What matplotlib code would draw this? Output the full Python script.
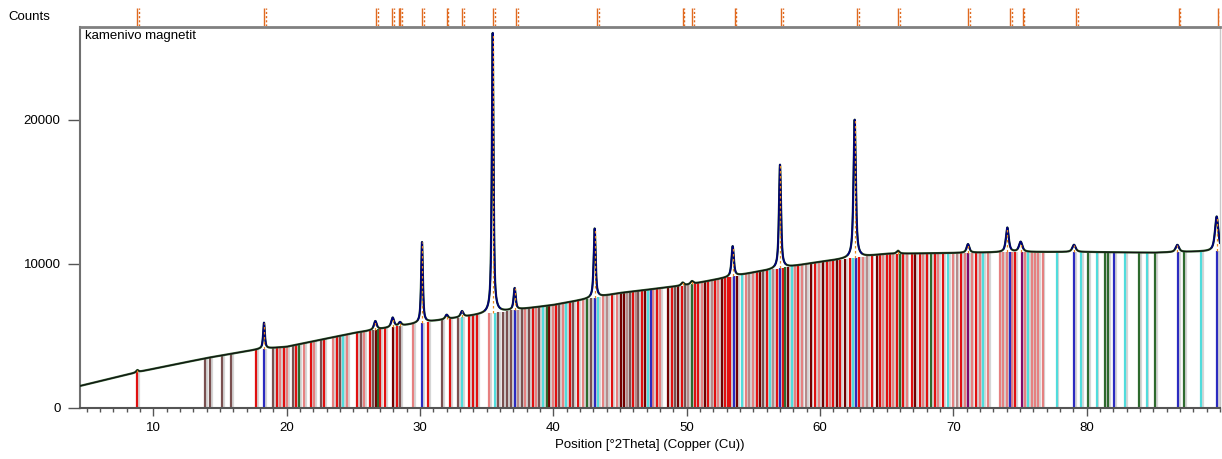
import numpy as np
import matplotlib
matplotlib.use('Agg')
import matplotlib.pyplot as plt
from matplotlib.ticker import MultipleLocator

plt.rcParams['font.family'] = ['Liberation Sans', 'DejaVu Sans']

# background of the scan (counts), read at a few positions
bg_x = [4.5, 9, 14, 18, 20, 25, 30, 35, 40, 45, 50, 55, 60, 65, 70, 75, 80, 85, 90]
bg_y = [1530, 2530, 3470, 4100, 4250, 5200, 5900, 6550, 7150, 7980, 8540, 9400,
        10140, 10700, 10760, 10830, 10830, 10780, 10900]

# observed peaks: position, height above background, width
peak_pos = [8.8, 18.3, 26.65, 27.95, 28.5, 30.15, 32.0, 33.15, 35.45, 37.1, 43.1,
            49.7, 50.4, 53.45, 57.0, 62.6, 65.85, 71.1, 74.05, 75.05, 79.05, 86.8, 89.75]
peak_h = [150, 1800, 600, 650, 250, 5600, 300, 400, 19500, 1500, 4800,
          200, 200, 2100, 7200, 9600, 200, 600, 1700, 700, 500, 500, 2400]
peak_w = [0.2, 0.15, 0.25, 0.25, 0.25, 0.15, 0.25, 0.25, 0.15, 0.18, 0.17,
          0.25, 0.25, 0.2, 0.18, 0.2, 0.25, 0.25, 0.25, 0.3, 0.3, 0.3, 0.3]

# peak markers in the strip above the plot
mark_pos = [8.8, 18.3, 26.7, 27.9, 28.4, 28.5, 30.15, 32.0, 33.15, 35.5, 37.2, 43.3,
            49.7, 50.4, 53.6, 57.1, 62.8, 65.85, 71.1, 74.25, 75.2, 79.2, 86.9, 89.85]

# reference pattern sticks, grouped by colour
red = [8.80, 17.72, 19.30, 19.82, 20.72, 21.84, 22.82, 23.79, 25.29, 26.27, 27.02, 27.39,
       28.29, 30.61, 32.26, 33.69, 33.99, 34.29, 38.49, 40.21, 41.26, 41.86, 44.41, 45.98,
       46.66, 47.78, 48.91, 49.66, 50.63, 50.85, 51.60, 52.13, 52.88, 53.10, 53.25, 55.25,
       56.00, 56.75, 57.20, 58.37, 59.63, 60.50, 61.00, 61.50, 62.25, 62.95, 63.87, 64.50,
       65.00, 65.25, 65.75, 66.25, 66.87, 67.50, 68.00, 68.62, 69.25, 70.57, 71.70, 74.62]
light_red = [19.52, 20.05, 21.32, 22.07, 23.49, 24.54, 25.82, 29.49, 35.19, 37.89, 38.71,
             39.99, 40.73, 42.23, 43.73, 44.78, 47.48, 48.01, 51.15, 52.35, 54.45, 55.00,
             58.13, 58.63, 59.95, 60.75, 63.25, 64.75, 65.50, 66.50, 67.75, 68.87, 69.94,
             70.87, 71.37, 72.00, 72.62, 73.49, 73.74, 73.99, 74.42, 75.37, 75.87, 76.12,
             76.37, 76.69]
dark_red = [26.70, 27.97, 39.69, 45.08, 45.31, 46.88, 48.61, 49.36, 51.38, 52.65, 53.80,
            55.50, 57.62, 59.30, 60.25, 61.25, 61.88, 64.25, 67.12]
brown = [13.90, 14.27, 15.17, 15.85, 19.00, 20.49, 22.59, 24.02, 25.59, 26.49, 28.52,
         31.66, 32.86, 35.86, 36.24, 36.54, 36.84, 37.66, 38.19, 38.94, 40.43, 41.48,
         42.83, 45.76, 46.36, 49.13, 49.88, 55.75]
rose = [37.36, 44.03, 45.53, 46.21, 50.10, 51.90, 54.70, 56.50, 58.95, 63.55, 70.24]
cyan = [24.24, 33.16, 35.64, 39.24, 40.96, 43.36, 47.11, 54.13, 56.25, 57.87, 62.50,
        69.62, 72.24, 75.62, 77.74, 79.56, 80.74, 82.91, 84.49, 88.61]
blue = [18.32, 30.17, 37.14, 43.13, 47.33, 53.55, 57.00, 62.70, 74.24, 79.06, 82.06,
        86.86, 89.81]
green = [20.94, 26.82, 39.54, 42.53, 50.40, 57.40, 66.00, 68.32, 80.11, 81.36, 81.61,
         83.91, 85.16, 87.31]
purple = [71.12, 75.12]

stick_sets = [(brown, '#7a5050'), (rose, '#b58a8a'), (light_red, '#e68080'),
              (red, '#e01010'), (dark_red, '#720000'), (cyan, '#50dcdc'),
              (green, '#2e6a2e'), (blue, '#2b2bc0'), (purple, '#800a6a')]

x = np.linspace(4.5, 90, 8000)
bg = np.interp(x, bg_x, bg_y)
sig = np.zeros_like(x)
for p, h, w in zip(peak_pos, peak_h, peak_w):
    d = (x - p) / (w / 2)
    sig += h * (0.75 / (1 + d ** 2) + 0.25 * np.exp(-np.log(2) * d ** 2))
y = bg + sig

fig = plt.figure(figsize=(12.22, 4.59), dpi=100)
ax = fig.add_axes([80 / 1222, 51 / 459, 1140 / 1222, 381 / 459])
top = fig.add_axes([80 / 1222, 433 / 459, 1140 / 1222, 18 / 459])

# sticks with light grey companions
for pos, col in stick_sets:
    sx = np.array(pos)
    stop = np.interp(sx, bg_x, bg_y)
    ax.vlines(sx + 0.13, 0, stop, colors='#d6d6d6', lw=1.6, zorder=1)
for pos, col in stick_sets:
    sx = np.array(pos)
    stop = np.interp(sx, bg_x, bg_y)
    ax.vlines(sx, 0, stop, colors=col, lw=1.6, zorder=2)

# scan
ax.plot(x, y, color='#2e5a2e', lw=1.6, zorder=3)
ax.plot(x, y, color='#111111', lw=0.8, zorder=4)
ypk = np.where(sig > 250, y, np.nan)
ax.plot(x, ypk, color='#00007a', lw=1.2, zorder=5)
ptop = np.interp(peak_pos, x, y)
pbg = np.interp(peak_pos, bg_x, bg_y)
ax.vlines(peak_pos, pbg, ptop, colors='#e88a20', lw=0.9, linestyles=(0, (2, 2)), zorder=6)

ax.set_xlim(4.5, 90)
ax.set_ylim(0, 26450)
ax.set_yticks([0, 10000, 20000])
ax.xaxis.set_major_locator(MultipleLocator(10))
ax.xaxis.set_minor_locator(MultipleLocator(1))
ax.set_xticks([10, 20, 30, 40, 50, 60, 70, 80])
ax.tick_params(axis='y', length=9, width=1, color='#555555', pad=5, labelsize=9.5)
ax.tick_params(axis='x', which='major', length=6, width=1, color='#555555', pad=4, labelsize=9.5)
ax.tick_params(axis='x', which='minor', length=3, width=1, color='#555555')
for s, c, lw in [('left', '#707070', 1.5), ('bottom', '#555555', 1.5),
                 ('top', '#808080', 2), ('right', '#c8c8c8', 1)]:
    ax.spines[s].set_color(c)
    ax.spines[s].set_linewidth(lw)
ax.set_xlabel('Position [°2Theta] (Copper (Cu))', fontsize=9.5, labelpad=4)
ax.text(0.004, 0.992, 'kamenivo magnetit', transform=ax.transAxes, ha='left', va='top', fontsize=9.5)

mp = np.array(mark_pos)
top.vlines(mp, 0, 1, colors='#e06a20', lw=1.0)
top.vlines(mp + 0.12, 0, 1, colors='#e06a20', lw=1.0, linestyles=(0, (1.5, 1.5)))
top.set_xlim(4.5, 90)
top.set_ylim(0, 1)
top.axis('off')

fig.text(8 / 1222, 1 - 17 / 459, 'Counts', ha='left', va='center', fontsize=9.5)

fig.savefig('out.png', dpi=100)
